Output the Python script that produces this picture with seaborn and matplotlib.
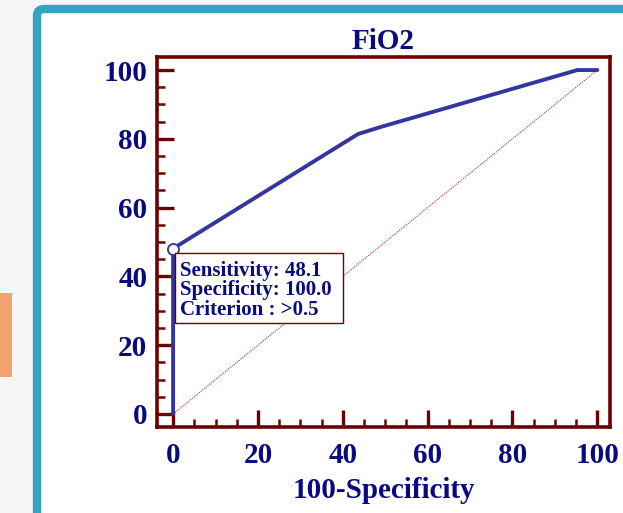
import numpy as np
import pandas as pd
import matplotlib
matplotlib.use('Agg')
import matplotlib.pyplot as plt
from matplotlib.patches import FancyBboxPatch, Rectangle
from matplotlib.ticker import MultipleLocator
import seaborn as sns

# ROC curve for FiO2 (100-Specificity vs Sensitivity)
fpr = [0.0, 0.0, 43.6, 48.8, 95.3, 100.0]
tpr = [0.0, 48.1, 81.4, 83.4, 100.0, 100.0]
diag = [0, 100]
ticks = [0, 20, 40, 60, 80, 100]
cut_x, cut_y = 0.0, 48.1
box_lines = ['Sensitivity: 48.1', 'Specificity: 100.0', 'Criterion : >0.5']

navy = '#0a0a80'
maroon = '#6e0000'
curve_col = '#3535a0'

sns.set_style('white')
plt.rcParams['font.family'] = ['Liberation Serif', 'DejaVu Serif']
plt.rcParams['font.weight'] = 'bold'

fig = plt.figure(figsize=(6.23, 5.13), dpi=100)
fig.patch.set_facecolor('#f6f6f6')

# teal frame of the card, cut off on the right and bottom
card = FancyBboxPatch((37 / 623, -0.05), 0.99, 1 - 9 / 513 + 0.05,
                      boxstyle='round,pad=0,rounding_size=0.012',
                      transform=fig.transFigure, facecolor='white',
                      edgecolor='#31a4bf', linewidth=6, zorder=-2)
fig.patches.append(card)
fig.patches.append(Rectangle((0, 1 - 377 / 513), 12 / 623, 84 / 513,
                             transform=fig.transFigure, facecolor='#f2a271',
                             edgecolor='none', zorder=-2))

ax = fig.add_axes([157 / 623, 1 - 427 / 513, 453 / 623, 370 / 513])
ax.set_facecolor('white')

df = pd.DataFrame({'fpr': fpr, 'tpr': tpr})
sns.lineplot(data=df, x='fpr', y='tpr', sort=False, estimator=None,
             color=curve_col, linewidth=2.8, ax=ax, zorder=3)
sns.lineplot(x=diag, y=diag, color='#b03a3a', linewidth=0.8,
             linestyle=(0, (1, 1)), ax=ax, zorder=2)
ax.plot([cut_x], [cut_y], marker='o', ms=8, mfc='white', mec=curve_col,
        mew=1.3, zorder=4, clip_on=False)

# criterion box
ax.add_patch(Rectangle((0.5, 26.5), 39.6, 20.3, facecolor='white',
                       edgecolor=maroon, linewidth=1, zorder=5))
for i, line in enumerate(box_lines):
    ax.text(1.7, 41.7 - i * 5.8, line, ha='left', va='center', fontsize=15,
            fontweight='bold', color=navy, zorder=6)

ax.set_xlim(-3.8, 103)
ax.set_ylim(-3.8, 103.8)
ax.set_xticks(ticks)
ax.set_yticks(ticks)
ax.xaxis.set_minor_locator(MultipleLocator(5))
ax.yaxis.set_minor_locator(MultipleLocator(5))
ax.tick_params(which='major', direction='in', length=12, width=2.4,
               color=maroon, labelsize=21, labelcolor=navy,
               bottom=True, left=True, top=False, right=False)
ax.tick_params(which='minor', direction='in', length=6, width=1.8,
               color=maroon, bottom=True, left=True, top=False, right=False)
ax.tick_params(axis='x', which='major', pad=11)
ax.tick_params(axis='y', which='major', pad=7)
for lab in ax.get_xticklabels() + ax.get_yticklabels():
    lab.set_fontweight('bold')
for s in ax.spines.values():
    s.set_color(maroon)
    s.set_linewidth(2.6)

ax.set_title('FiO2', fontsize=21, fontweight='bold', color=navy, pad=6)
ax.set_xlabel('100-Specificity', fontsize=21, fontweight='bold', color=navy,
              labelpad=5.5)
ax.set_ylabel('')

fig.savefig('out.png', dpi=100, facecolor=fig.get_facecolor())
